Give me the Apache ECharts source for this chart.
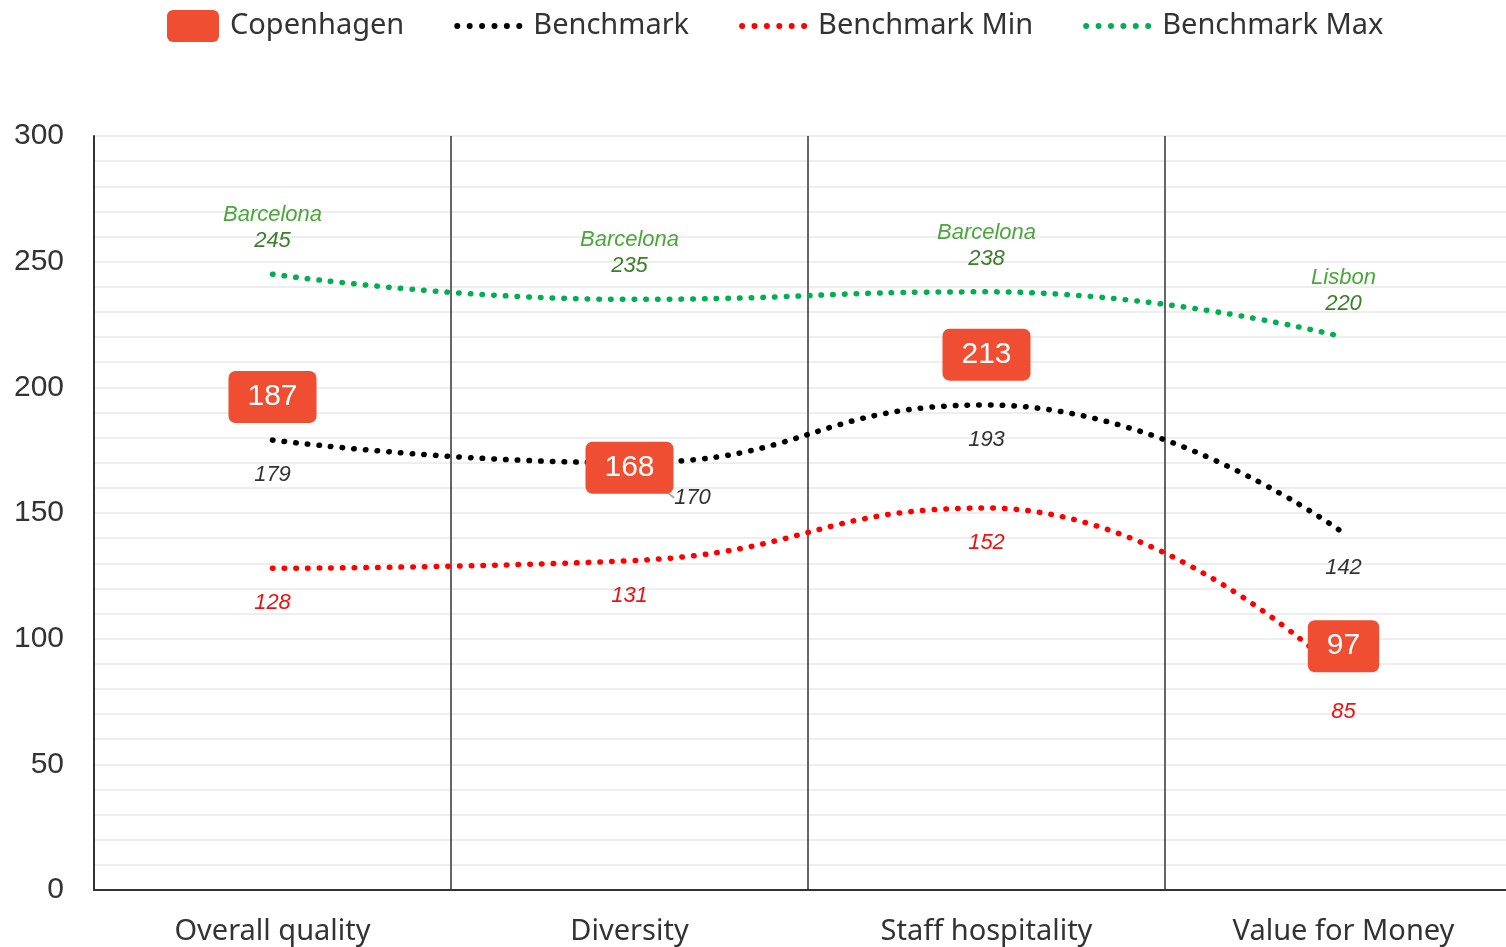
<html><head><meta charset='utf-8'>
<script src='https://cdn.jsdelivr.net/npm/echarts@6/dist/echarts.min.js'></script>
<style>html,body{margin:0;padding:0;background:#fff}#main{width:1506px;height:947px}</style>
</head><body>
<div id='main'></div>
<script>
var categories = ['Overall quality', 'Diversity', 'Staff hospitality', 'Value for Money'];
var copenhagen = [187, 168, 213, 97];
var benchmark = [179, 170, 193, 142];
var benchmarkMin = [128, 131, 152, 85];
var benchmarkMax = [245, 235, 238, 220];
var maxCities = ['Barcelona', 'Barcelona', 'Barcelona', 'Lisbon'];

var font = 'Liberation Sans';
var dots = function (color) {
    return { color: color, width: 5.5, type: [0.5, 11.2], cap: 'round' };
};
// legend icons: a row of six dots, and a rounded box
var dotIcon = 'path://';
for (var k = 0; k < 6; k++) {
    var cx = 3 + k * 12.4;
    dotIcon += 'M' + (cx - 3) + ',3 A3,3 0 1 0 ' + (cx + 3) + ',3 A3,3 0 1 0 ' + (cx - 3) + ',3 Z ';
}
var boxIcon = 'path://M6,0 H46 A6,6 0 0 1 52,6 V26 A6,6 0 0 1 46,32 H6 A6,6 0 0 1 0,26 V6 A6,6 0 0 1 6,0 Z';

var chart = echarts.init(document.getElementById('main'));
chart.setOption({
    animation: false,
    legend: {
        top: 5,
        left: 162,
        itemGap: 50,
        itemWidth: 68,
        itemHeight: 32,
        textStyle: { fontSize: 29, color: '#333', fontFamily: 'Noto Sans', padding: [0, 0, 0, 6] },
        data: [
            { name: 'Copenhagen', icon: boxIcon, itemStyle: { color: '#f04e32' }, textStyle: { padding: [0, 0, 0, -2] } },
            { name: 'Benchmark', icon: dotIcon, itemStyle: { color: '#000' } },
            { name: 'Benchmark Min', icon: dotIcon, itemStyle: { color: '#ff0000' } },
            { name: 'Benchmark Max', icon: dotIcon, itemStyle: { color: '#00b050' } }
        ]
    },
    grid: { left: 94, width: 1428, top: 136, bottom: 57, containLabel: false, outerBoundsMode: 'none' },
    xAxis: {
        type: 'category',
        data: categories,
        boundaryGap: true,
        axisLine: { lineStyle: { color: '#333', width: 2 } },
        axisTick: { show: false },
        splitLine: { show: true, lineStyle: { color: '#333', width: 1.5 } },
        axisLabel: { fontSize: 29, color: '#333', fontFamily: 'Noto Sans', margin: 27 }
    },
    yAxis: {
        type: 'value',
        min: 0, max: 300, interval: 10,
        axisLine: { show: true, lineStyle: { color: '#333', width: 2 } },
        axisTick: { show: false },
        splitLine: { lineStyle: { color: '#eeeeee', width: 2 } },
        axisLabel: {
            fontSize: 30, color: '#333', fontFamily: font, margin: 30,
            formatter: function (v) { return v % 50 === 0 ? String(v) : ''; }
        }
    },
    series: [
        {
            name: 'Copenhagen', type: 'line', z: 10,
            data: copenhagen.map(function (v, i) {
                return i === 0 ? { value: v, label: { offset: [0, -23] } } : v;
            }),
            symbol: 'circle', symbolSize: 0.1, showSymbol: true,
            itemStyle: { color: '#f04e32' },
            lineStyle: { width: 0 },
            label: {
                show: true, position: 'inside',
                color: '#fff', fontSize: 30, fontFamily: font,
                backgroundColor: '#f04e32', borderRadius: 7,
                padding: [12, 19, 10, 19]
            }
        },
        {
            name: 'Benchmark', type: 'line', smooth: true,
            data: benchmark.map(function (v, i) {
                return i === 1 ? { value: v, labelLine: { show: true } } : v;
            }),
            symbol: 'circle', symbolSize: 0.1, showSymbol: true,
            itemStyle: { color: '#000' },
            lineStyle: dots('#000'),
            label: {
                show: true, position: 'bottom', distance: 24,
                fontSize: 22, fontStyle: 'italic', color: '#333', fontFamily: font
            },
            labelLine: { show: false, lineStyle: { color: '#aaa', width: 2 } },
            labelLayout: function (p) {
                if (p.dataIndex === 1) return { dx: 63 };
            }
        },
        {
            name: 'Benchmark Min', type: 'line', smooth: true,
            data: benchmarkMin, symbol: 'circle', symbolSize: 0.1, showSymbol: true,
            itemStyle: { color: '#ff0000' },
            lineStyle: dots('#ff0000'),
            label: {
                show: true, position: 'bottom', distance: 24,
                fontSize: 22, fontStyle: 'italic', color: '#ee1111', fontFamily: font
            }
        },
        {
            name: 'Benchmark Max', type: 'line', smooth: true,
            data: benchmarkMax, symbol: 'circle', symbolSize: 0.1, showSymbol: true,
            itemStyle: { color: '#00b050' },
            lineStyle: dots('#00b050'),
            label: {
                show: true, position: 'top', distance: 20,
                formatter: function (p) {
                    return '{c|' + maxCities[p.dataIndex] + '}\n{v|' + p.value + '}';
                },
                rich: {
                    c: { fontSize: 22, fontStyle: 'italic', color: '#4aa83a', fontFamily: font, lineHeight: 26 },
                    v: { fontSize: 22, fontStyle: 'italic', color: '#3a7f2a', fontFamily: font, lineHeight: 26 }
                }
            }
        }
    ]
});
</script>
</body></html>
